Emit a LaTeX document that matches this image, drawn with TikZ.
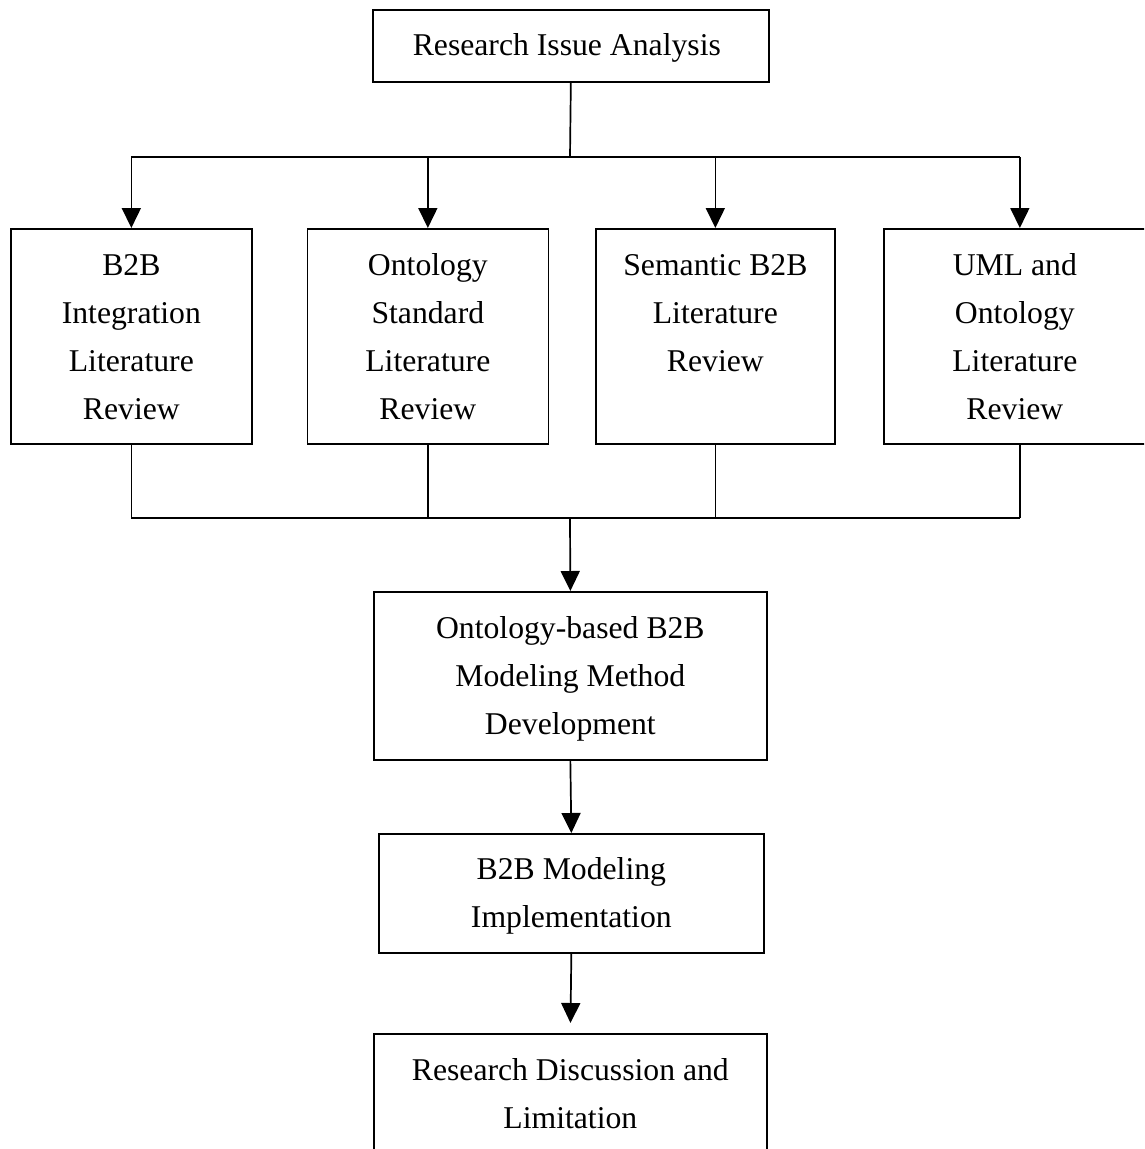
\documentclass[tikz,border=0pt]{standalone}
\usepackage{fontspec}
\setmainfont{Liberation Serif}
\usetikzlibrary{arrows.meta}
\tikzset{
  box/.style={draw, line width=1.7pt, inner sep=0pt, anchor=north west},
  lbl/.style={font=\fontsize{31.7}{48}\selectfont, align=center, inner sep=0pt, anchor=north},
  ln/.style={line width=1.7pt},
  arr/.style={line width=1.7pt, -{Triangle[width=19pt,length=20pt]}},
}
\begin{document}
\begin{tikzpicture}[x=1pt,y=-1pt]
\useasboundingbox (0,0) rectangle (1144,1149);
\clip (0,0) rectangle (1144,1149);
% boxes
\node[box, minimum width=396pt, minimum height=72pt] (top) at (372,9) {};
\node[box, minimum width=241pt, minimum height=215pt] (b1) at (10,228) {};
\node[box, minimum width=241pt, minimum height=215pt] (b2) at (306.5,228) {};
\node[box, minimum width=239pt, minimum height=215pt] (b3) at (595,228) {};
\node[box, minimum width=272pt, minimum height=215pt] (b4) at (883,228) {};
\node[box, minimum width=393pt, minimum height=168pt] (b5) at (373,591) {};
\node[box, minimum width=385pt, minimum height=119pt] (b6) at (378,833) {};
\node[box, minimum width=393pt, minimum height=150pt] (b7) at (373,1033) {};
% texts
\node[lbl] (t0) at ([xshift=-4pt,yshift=-13pt]top.north) {\strut Research Issue Analysis};
\node[lbl] (t1) at ([yshift=-13.4pt]b1.north) {\strut B2B\\Integration\\Literature\\Review};
\node[lbl] (t2) at ([yshift=-13.4pt]b2.north) {\strut Ontology\\Standard\\Literature\\Review};
\node[lbl] (t3) at ([yshift=-13.4pt]b3.north) {\strut Semantic B2B\\Literature\\Review};
\node[lbl] (t4) at ([xshift=-5pt,yshift=-13.4pt]b4.north) {\strut UML and\\Ontology\\Literature\\Review};
\node[lbl] (t5) at ([yshift=-13.4pt]b5.north) {\strut Ontology-based B2B\\Modeling Method\\Development};
\node[lbl] (t6) at ([yshift=-12.4pt]b6.north) {\strut B2B Modeling\\Implementation};
\node[lbl] (t7) at ([yshift=-13.4pt]b7.north) {\strut Research Discussion and\\Limitation};
% connectors
\coordinate (j1) at (570,157);
\coordinate (j2) at (570,518);
\draw[ln] (top.south) -- (j1);
\draw[ln] (j1 -| b1.north) -- (j1 -| b4.north);
\draw[arr] (j1 -| b1.north) -- (b1.north);
\draw[arr] (j1 -| b2.north) -- (b2.north);
\draw[arr] (j1 -| b3.north) -- (b3.north);
\draw[arr] (j1 -| b4.north) -- (b4.north);
\draw[ln] (b1.south) -- (j2 -| b1.south);
\draw[ln] (b2.south) -- (j2 -| b2.south);
\draw[ln] (b3.south) -- (j2 -| b3.south);
\draw[ln] (b4.south) -- (j2 -| b4.south);
\draw[ln] (j2 -| b1.south) -- (j2 -| b4.south);
\draw[arr] (j2) -- (b5.north);
\draw[arr] (b5.south) -- (b6.north);
\draw[arr, shorten >=10pt] (b6.south) -- (b7.north);
\end{tikzpicture}
\end{document}
